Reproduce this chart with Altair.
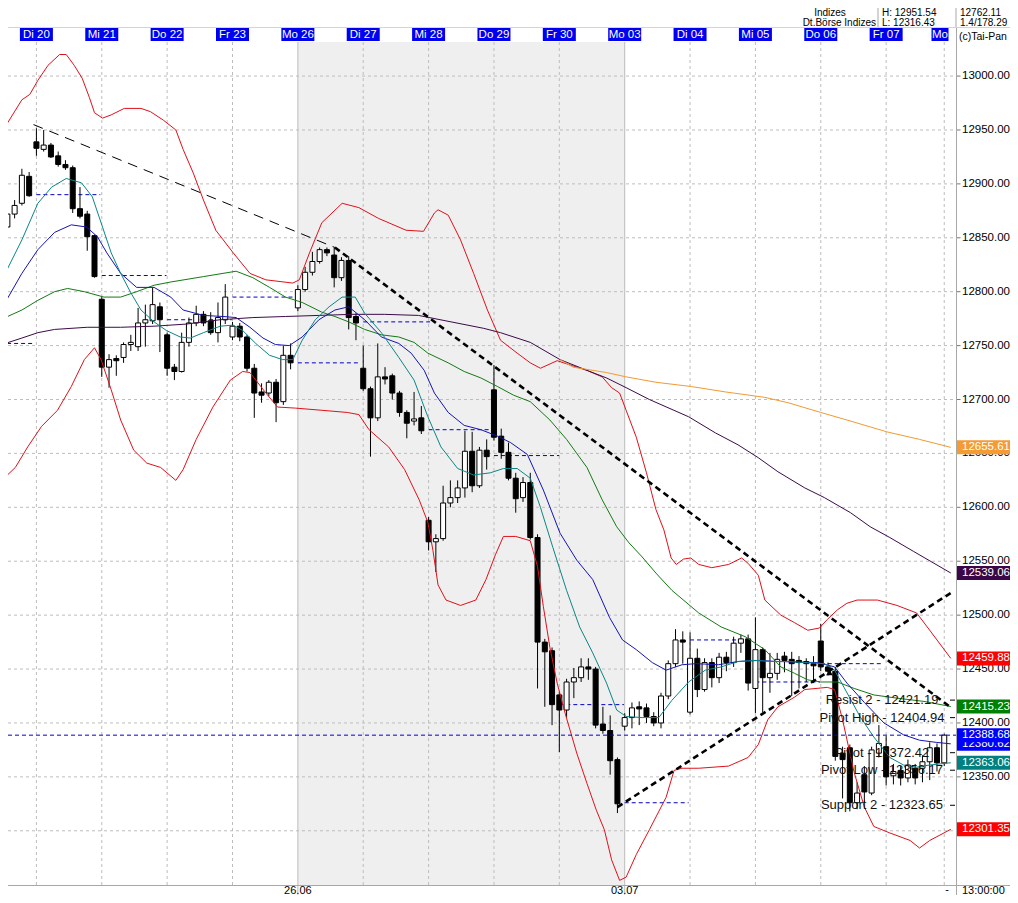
import altair as alt
import pandas as pd

FONT = "Liberation Sans"

# ---------------- candles (hourly, index 0..129) ----------------
opens = [
    12860, 12872, 12882, 12907, 12939, 12932, 12936, 12926, 12918, 12915,
    12877, 12872, 12852, 12793, 12730, 12738, 12739, 12751, 12749, 12771,
    12773, 12786, 12760, 12730, 12726, 12753, 12771, 12779, 12773, 12762,
    12774, 12758, 12768, 12758, 12729, 12707, 12706, 12716, 12698, 12741,
    12785, 12802, 12818, 12828, 12839, 12834, 12813, 12829, 12777, 12729,
    12710, 12683, 12721, 12722, 12706, 12688, 12680, 12683, 12588, 12568,
    12571, 12604, 12609, 12618, 12652, 12620, 12653, 12709, 12666, 12651,
    12627, 12609, 12623, 12572, 12475, 12467, 12426, 12412, 12438, 12442,
    12452, 12450, 12399, 12393, 12366, 12397, 12405, 12415, 12414, 12406,
    12400, 12425, 12455, 12477, 12410, 12460, 12431, 12456, 12442, 12461,
    12456, 12474, 12478, 12432, 12468, 12442, 12446, 12462, 12459, 12458,
    12457, 12455, 12476, 12452, 12448, 12372, 12377, 12326, 12352, 12335,
    12372, 12378, 12351, 12356, 12349, 12358, 12358, 12364, 12377, 12363]
highs = [
    12877, 12885, 12914, 12911, 12951.54, 12950, 12938, 12930, 12922, 12917,
    12897, 12875, 12853, 12795, 12742, 12741, 12753, 12760, 12785, 12788,
    12804, 12790, 12762, 12733, 12762, 12776, 12787, 12782, 12781, 12790,
    12807, 12772, 12771, 12760, 12733, 12715, 12718, 12719, 12750, 12752,
    12806, 12823, 12837, 12841, 12841, 12841, 12832, 12833, 12780, 12750,
    12712, 12752, 12730, 12724, 12708, 12690, 12707, 12694, 12591, 12575,
    12620, 12625, 12625, 12671, 12670, 12656, 12663, 12732, 12673, 12660,
    12632, 12628, 12632, 12575, 12478, 12470, 12429, 12441, 12451, 12460,
    12460, 12452, 12415, 12407, 12368, 12409, 12419, 12420, 12418, 12410,
    12428, 12458, 12487, 12485, 12484, 12469, 12460, 12460, 12465, 12466,
    12480, 12482, 12482, 12498, 12470, 12465, 12465, 12466, 12466, 12462,
    12460, 12462, 12492, 12456, 12452, 12378, 12380, 12345, 12360, 12378,
    12398, 12388, 12362, 12360, 12366, 12362, 12370, 12382, 12381, 12390]
lows = [
    12855, 12868, 12880, 12888, 12926, 12930, 12924, 12916, 12913, 12873,
    12868, 12838, 12813, 12721, 12711, 12722, 12734, 12745, 12745, 12749,
    12770, 12744, 12722, 12718, 12725, 12749, 12768, 12768, 12760, 12753,
    12770, 12755, 12754, 12726, 12683, 12697, 12703, 12679, 12695, 12728,
    12782, 12800, 12815, 12826, 12833, 12804, 12810, 12765, 12755, 12708,
    12647, 12680, 12714, 12700, 12684, 12664, 12676, 12668, 12560, 12540,
    12569, 12600, 12604, 12609, 12614, 12618, 12635, 12662, 12645, 12625,
    12595, 12605, 12570, 12432, 12415, 12398, 12373, 12405, 12423, 12438,
    12440, 12395, 12390, 12352, 12316.43, 12393, 12395, 12398, 12400, 12397,
    12395, 12422, 12452, 12455, 12408, 12424, 12429, 12433, 12437, 12448,
    12452, 12465, 12430, 12409, 12410, 12428, 12440, 12447, 12425, 12432,
    12438, 12437, 12448, 12444, 12365, 12330, 12318, 12320, 12326, 12333,
    12368, 12342, 12343, 12342, 12345, 12343, 12345, 12347, 12355, 12360]
closes = [
    12872, 12880, 12908, 12889, 12933, 12936, 12925, 12918, 12915, 12877,
    12870, 12851, 12814, 12730, 12737, 12736, 12751, 12753, 12771, 12774,
    12788, 12774, 12729, 12726, 12753, 12771, 12779, 12771, 12762, 12776,
    12795, 12768, 12758, 12729, 12706, 12704, 12716, 12697, 12741, 12734,
    12802, 12818, 12828, 12839, 12836, 12813, 12829, 12776, 12771, 12710,
    12683, 12721, 12719, 12706, 12688, 12678, 12682, 12671, 12568, 12571,
    12604, 12609, 12618, 12652, 12620, 12653, 12647, 12665, 12651, 12627,
    12608, 12623, 12572, 12475, 12466, 12417, 12412, 12438, 12442, 12452,
    12450, 12398, 12393, 12365, 12325, 12405, 12414, 12413, 12406, 12400,
    12425, 12455, 12477, 12475, 12460, 12431, 12456, 12442, 12461, 12456,
    12474, 12478, 12437, 12468, 12442, 12446, 12459, 12458, 12455, 12456,
    12455, 12453, 12452, 12448, 12369, 12366, 12326, 12335, 12336, 12375,
    12381, 12350, 12355, 12349, 12361, 12349, 12364, 12377, 12363, 12388.68]

# ---------------- indicator lines (x in candle index units) ----------------
teal_x = [-0.3, 2.0, 4.2, 6.1, 8.1, 10.2, 11.7, 12.9, 14.3, 15.6,
          17.0, 18.4, 20.2, 21.9, 23.8, 25.2, 27.0, 29.3, 31.1, 32.4,
          34.2, 36.1, 37.9, 39.3, 40.6, 42.4, 44.3, 46.1, 47.9, 49.2,
          51.5, 53.9, 56.0, 57.9, 59.7, 62.0, 64.2, 66.5, 68.3, 70.2,
          72.0, 73.4, 75.1, 77.0, 78.8, 80.6, 82.5, 83.9, 85.2, 87.4,
          89.7, 91.5, 93.8, 96.1, 98.3, 100.6, 103.0, 105.2, 107.5, 109.8,
          112.5, 113.9, 115.2, 117.4, 119.3, 121.5, 123.4, 125.2, 127.0, 129.9]
teal_y = [12817, 12848, 12882, 12897, 12905, 12901, 12888, 12864, 12836, 12817,
          12799, 12783, 12772, 12764, 12758, 12757, 12762, 12768, 12769, 12764,
          12752, 12741, 12737, 12737, 12755, 12774, 12786, 12795, 12795, 12780,
          12762, 12739, 12718, 12684, 12656, 12636, 12630, 12632, 12636, 12636,
          12627, 12600, 12563, 12523, 12489, 12465, 12437, 12412, 12406, 12405,
          12405, 12421, 12438, 12449, 12452, 12457, 12458, 12457, 12457, 12456,
          12455, 12449, 12433, 12406, 12387, 12368, 12361, 12359, 12361, 12363.06]

blue_x = [-0.3, 2.0, 4.2, 6.5, 8.8, 10.9, 12.4, 13.7, 15.6, 17.8,
          20.2, 22.5, 24.2, 27.0, 29.7, 31.5, 33.4, 35.2, 36.9, 38.8,
          40.6, 42.9, 45.1, 47.0, 49.2, 51.5, 53.9, 55.6, 57.4, 58.8,
          60.7, 62.9, 65.2, 67.5, 69.3, 71.6, 73.8, 76.1, 78.4, 80.6,
          82.9, 84.7, 86.6, 88.8, 90.7, 92.9, 94.8, 97.9, 100.6, 103.4,
          106.1, 111.6, 113.9, 115.6, 118.0, 120.7, 123.4, 125.6, 127.9, 129.9]
blue_y = [12790, 12817, 12839, 12855, 12862, 12860, 12851, 12836, 12817, 12804,
          12804, 12795, 12783, 12778, 12777, 12776, 12767, 12757, 12751, 12750,
          12758, 12774, 12783, 12786, 12774, 12758, 12752, 12743, 12727, 12706,
          12688, 12676, 12672, 12666, 12660, 12649, 12616, 12576, 12551, 12533,
          12498, 12477, 12468, 12456, 12449, 12454, 12455, 12454, 12457, 12458,
          12457, 12456, 12452, 12437, 12419, 12400, 12389, 12384, 12382, 12380.62]

green_x = [-0.3, 2.0, 4.2, 6.5, 8.3, 10.6, 13.3, 15.6, 17.8, 20.2,
           22.5, 27.0, 31.5, 33.8, 36.1, 38.3, 40.6, 43.3, 45.1, 47.0,
           49.2, 51.5, 53.9, 56.0, 57.9, 60.7, 62.9, 65.2, 67.5, 69.7,
           72.0, 74.7, 77.0, 79.8, 81.9, 83.9, 85.6, 87.4, 89.3, 91.5,
           95.2, 98.3, 101.6, 104.3, 106.5, 108.4, 110.2, 112.0, 114.3, 116.6,
           119.3, 122.5, 126.2, 129.9]
green_y = [12776, 12783, 12792, 12800, 12803, 12800, 12795, 12795, 12800, 12806,
           12809, 12814, 12819, 12813, 12804, 12795, 12790, 12781, 12777, 12772,
           12765, 12760, 12758, 12753, 12743, 12734, 12726, 12720, 12712, 12704,
           12698, 12681, 12663, 12637, 12607, 12582, 12567, 12554, 12539, 12523,
           12502, 12489, 12480, 12468, 12452, 12446, 12440, 12438, 12438, 12432,
           12426, 12423, 12420, 12415.23]

purple_x = [-0.3, 2.0, 4.2, 6.5, 11.0, 15.6, 20.2, 24.7, 29.3, 33.8,
            38.3, 42.9, 47.4, 51.9, 56.6, 61.1, 65.6, 67.9, 72.0, 76.1,
            80.2, 82.5, 85.2, 88.4, 93.8, 97.5, 100.6, 103.4, 106.1, 109.8,
            112.5, 116.1, 118.8, 121.5, 124.8, 129.9]
purple_y = [12752, 12757, 12762, 12765, 12767, 12767, 12768, 12770, 12774, 12776,
            12777, 12778, 12779, 12779, 12778, 12772, 12766, 12762, 12753, 12737,
            12726, 12720, 12711, 12700, 12684, 12669, 12658, 12646, 12633, 12618,
            12609, 12595, 12582, 12572, 12559, 12539.06]

orange_x = [76.1, 77.9, 82.5, 85.2, 89.3, 94.2, 98.9, 104.3, 107.5, 112.0,
            116.6, 121.1, 125.6, 129.9]
orange_y = [12737, 12730, 12725, 12721, 12716, 12712, 12707, 12702, 12697, 12688,
            12679, 12670, 12663, 12655.61]

bb_up_x = [-0.3, 2.0, 3.1, 4.2, 5.6, 7.2, 8.1, 9.2, 10.3, 11.3,
           12.0, 13.1, 14.3, 16.1, 18.4, 19.7, 21.5, 23.2, 24.2, 25.6,
           27.0, 28.7, 31.1, 33.4, 35.6, 39.3, 40.2, 41.6, 43.3, 46.1,
           48.4, 51.1, 54.9, 57.3, 58.8, 59.3, 60.7, 62.4, 64.2, 66.1,
           67.9, 70.2, 72.0, 73.4, 75.7, 77.5, 79.8, 81.9, 83.2, 84.3,
           85.2, 86.6, 88.0, 89.3, 90.4, 91.4, 92.1, 93.1, 94.1, 95.2,
           97.0, 99.3, 101.1, 102.0, 103.4, 104.3, 106.5, 108.4, 110.2, 111.8,
           112.9, 114.3, 115.6, 117.0, 119.8, 122.5, 125.2, 127.0, 129.9]
bb_up_y = [12953, 12978, 12983, 12996, 13010, 13020, 13020, 13010, 12998, 12980,
           12966, 12961, 12964, 12970, 12970, 12967, 12959, 12950, 12932, 12910,
           12885, 12857, 12836, 12817, 12811, 12808, 12811, 12836, 12864, 12882,
           12878, 12868, 12857, 12856, 12873, 12876, 12871, 12848, 12817, 12783,
           12755, 12743, 12734, 12729, 12736, 12732, 12727, 12721, 12711, 12706,
           12690, 12665, 12632, 12598, 12579, 12553, 12547, 12552, 12553, 12547,
           12544, 12547, 12553, 12548, 12537, 12514, 12500, 12493, 12486, 12488,
           12496, 12505, 12511, 12514, 12514, 12509, 12502, 12486, 12459.88]

bb_lo_x = [-0.3, 1.1, 2.8, 4.7, 6.9, 8.8, 10.6, 12.0, 12.9, 14.3,
           15.6, 17.4, 19.2, 21.1, 23.2, 24.2, 26.0, 28.3, 30.7, 32.4,
           33.4, 35.6, 37.2, 39.7, 43.3, 46.8, 48.4, 49.8, 52.5, 54.7,
           56.7, 57.9, 58.6, 59.3, 60.4, 62.4, 64.5, 65.9, 67.2, 68.3,
           70.0, 72.0, 73.0, 73.8, 74.7, 75.7, 76.8, 78.4, 79.8, 81.1,
           82.2, 83.2, 84.3, 85.2, 86.6, 88.4, 90.7, 91.8, 92.9, 95.2,
           99.3, 102.0, 103.4, 104.7, 106.1, 108.4, 109.8, 112.9, 113.9, 115.0,
           116.6, 118.0, 119.3, 121.5, 124.3, 125.6, 127.0, 129.9]
bb_lo_y = [12628, 12637, 12656, 12675, 12690, 12712, 12737, 12748, 12737, 12709,
           12681, 12653, 12641, 12637, 12625, 12635, 12663, 12693, 12718, 12726,
           12725, 12706, 12693, 12692, 12690, 12688, 12686, 12672, 12656, 12635,
           12607, 12586, 12560, 12528, 12514, 12509, 12514, 12533, 12556, 12573,
           12573, 12569, 12545, 12508, 12470, 12437, 12409, 12372, 12344, 12319,
           12301, 12273, 12254, 12257, 12278, 12301, 12331, 12356, 12358, 12358,
           12360, 12368, 12380, 12403, 12415, 12424, 12431, 12433, 12431, 12403,
           12354, 12322, 12304, 12298, 12291, 12284, 12291, 12301.35]

# daily reference levels (blue dashed)
seg_start = [-1, 4, 13, 22, 31, 40, 49, 58, 67, 76, 85, 94, 103, 112]
seg_end = [3.6, 12.8, 21.9, 30.9, 39.3, 48.4, 58.2, 67.0, 76.0, 84.9, 93.8, 101.1, 111.9, 120.5]
seg_price = [12752, 12890, 12815, 12774, 12795, 12734, 12772, 12672, 12648, 12417,
             12326, 12477, 12438, 12455]
last_price = 12388.68

# trend lines
thin_x = [3.6, 45.1]
thin_y = [12955, 12841]
down_x = [45.1, 130.0]
down_y = [12841, 12414]
up_x = [84.0, 130.0]
up_y = [12322, 12521]

# pivot levels
pivot_names = ["Resist 2 - 12421.19", "Pivot High - 12404.94", "Pivot - 12372.42",
               "Pivot Low - 12356.17", "Support 2 - 12323.65"]
pivot_vals = [12421.19, 12404.94, 12372.42, 12356.17, 12323.65]

# day labels
day_names = ["Di 20", "Mi 21", "Do 22", "Fr 23", "Mo 26", "Di 27", "Mi 28",
             "Do 29", "Fr 30", "Mo 03", "Di 04", "Mi 05", "Do 06", "Fr 07"]
day_idx = [4, 13, 22, 31, 40, 49, 58, 67, 76, 85, 94, 103, 112, 121]
grid_idx = [4, 13, 22, 31, 49, 58, 67, 76, 94, 103, 112, 121, 129]
week_start = [40]
week_end = [85]
week_labels = ["26.06", "03.07"]
week_idx = [40, 85]
price_ticks = list(range(12300, 13001, 50))

# header texts
hdr_text = ["Indizes", "Dt.Börse Indizes", "H: 12951.54", "L: 12316.43", "12762.11",
            "1.4/178.29", "(c)Tai-Pan", "13:00:00", "-"]

# right value boxes
box_vals = [12655.61, 12539.06, 12459.88, 12415.23, 12388.68, 12363.06, 12301.35]
box_cols = ["#f49b34", "#3a0846", "#ff0000", "#008000", "#0000ff", "#008080", "#ff0000"]
hidden_val = [12380.62]

# ---------------- geometry ----------------
W, H = 948, 843
RIGHT, BOTTOM = 54, 10
xs = alt.Scale(domain=[0.7766, 129.93], nice=False, zero=False)
ys = alt.Scale(domain=[12249.7, 13031.6], nice=False, zero=False)


def X(f):
    return alt.X(f, type="quantitative", scale=xs, axis=None)


def Y(f):
    return alt.Y(f, type="quantitative", scale=ys, axis=None)


candles = pd.DataFrame({"idx": list(range(len(opens))), "open": opens, "high": highs,
                        "low": lows, "close": closes})

layers = []

# shaded week
layers.append(alt.Chart(pd.DataFrame({"a": week_start, "b": week_end})).mark_rect(
    color="#efefef", clip=True).encode(x=X("a"), x2="b", y=alt.value(0), y2=alt.value(H)))

# horizontal grid
ticks_df = pd.DataFrame({"price": price_ticks, "lab": [f"{v:.2f}" for v in price_ticks]})
layers.append(alt.Chart(ticks_df).mark_rule(
    color="#bdbdbd", strokeDash=[3, 3], strokeWidth=1).encode(
    y=Y("price"), x=alt.value(0), x2=alt.value(W)))

# right axis: ticks and labels
layers.append(alt.Chart(ticks_df).mark_rule(color="#777", strokeWidth=1).encode(
    y=Y("price"), x=alt.value(948.5), x2=alt.value(952.5)))
layers.append(alt.Chart(ticks_df).mark_text(
    font=FONT, fontSize=11.5, color="black", align="left", baseline="middle").encode(
    y=Y("price"), x=alt.value(954), text="lab"))

# vertical day grid
layers.append(alt.Chart(pd.DataFrame({"idx": grid_idx})).mark_rule(
    color="#bdbdbd", strokeDash=[3, 3], strokeWidth=1).encode(
    x=X("idx"), y=alt.value(0), y2=alt.value(H)))

# week boundaries (solid)
layers.append(alt.Chart(pd.DataFrame({"idx": week_start + week_end})).mark_rule(
    color="#bcbcbc", strokeWidth=1).encode(x=X("idx"), y=alt.value(0), y2=alt.value(H + BOTTOM)))

# daily dashed levels
layers.append(alt.Chart(pd.DataFrame({"s": seg_start, "e": seg_end, "p": seg_price})).mark_rule(
    color="#0000c8", strokeDash=[4, 3], strokeWidth=1, clip=True).encode(
    x=X("s"), x2="e", y=Y("p")))

# candles
layers.append(alt.Chart(candles).mark_rule(color="black", strokeWidth=1, clip=True).encode(
    x=X("idx"), y=Y("low"), y2="high"))
layers.append(alt.Chart(candles).mark_bar(size=5, stroke="black", strokeWidth=1, clip=True).encode(
    x=X("idx"), y=Y("open"), y2="close",
    fill=alt.condition(alt.datum.close >= alt.datum.open, alt.value("white"), alt.value("black"))))


def line(xv, yv, color, width=1.0):
    df = pd.DataFrame({"idx": xv, "price": yv})
    return alt.Chart(df).mark_line(color=color, strokeWidth=width, clip=True,
                                   interpolate="linear").encode(
        x=X("idx"), y=Y("price"), order="idx:Q")


layers.append(line(bb_up_x, bb_up_y, "#e0101a"))
layers.append(line(bb_lo_x, bb_lo_y, "#e0101a"))
layers.append(line(purple_x, purple_y, "#3c0a48"))
layers.append(line(orange_x, orange_y, "#f39a30"))
layers.append(line(green_x, green_y, "#137a13"))
layers.append(line(blue_x, blue_y, "#1414b4"))
layers.append(line(teal_x, teal_y, "#0b8585"))

# last price line
layers.append(alt.Chart(pd.DataFrame({"price": [last_price]})).mark_rule(
    color="#0000d0", strokeDash=[4, 3], strokeWidth=1).encode(
    y=Y("price"), x=alt.value(0), x2=alt.value(W)))

# trend lines
for xv, yv, dash, wdt in [(thin_x, thin_y, [10, 7], 1), (down_x, down_y, [6, 4], 2.6),
                          (up_x, up_y, [6, 4], 2.6)]:
    layers.append(alt.Chart(pd.DataFrame({"idx": xv, "price": yv})).mark_line(
        color="black", strokeDash=dash, strokeWidth=wdt, clip=True).encode(
        x=X("idx"), y=Y("price")))

# marker at line crossing
layers.append(alt.Chart(pd.DataFrame({"idx": [113.2], "price": [12447]})).mark_point(
    shape="triangle-up", filled=True, size=45, color="black", opacity=1).encode(
    x=X("idx"), y=Y("price")))

# pivot labels and axis marks
piv = pd.DataFrame({"price": pivot_vals, "name": pivot_names})
layers.append(alt.Chart(piv).mark_text(font=FONT, fontSize=13, color="#111",
                                       align="center", baseline="middle").encode(
    x=alt.value(874), y=Y("price"), text="name"))
layers.append(alt.Chart(piv).mark_rule(color="black", strokeWidth=1).encode(
    x=alt.value(942), x2=alt.value(947), y=Y("price")))

# day label boxes
days = pd.DataFrame({"idx": day_idx, "name": day_names})
layers.append(alt.Chart(days).mark_tick(orient="horizontal", size=33, thickness=13,
                                        color="#0000f0", opacity=1).encode(
    x=X("idx"), y=alt.value(-7.5)))
layers.append(alt.Chart(days).mark_text(font=FONT, fontSize=11.5, color="white",
                                        align="center", baseline="middle").encode(
    x=X("idx"), y=alt.value(-7), text="name"))
mo = pd.DataFrame({"name": ["Mo"]})
layers.append(alt.Chart(mo).mark_tick(
    orient="horizontal", size=17, thickness=13, color="#0000f0", opacity=1).encode(
    x=alt.value(932), y=alt.value(-7.5)))
layers.append(alt.Chart(mo).mark_text(
    font=FONT, fontSize=11.5, color="white", align="center", baseline="middle").encode(
    x=alt.value(932), y=alt.value(-7), text="name"))

# week labels on bottom band
layers.append(alt.Chart(pd.DataFrame({"idx": week_idx, "name": week_labels})).mark_text(
    font=FONT, fontSize=11, color="black", align="center", baseline="middle").encode(
    x=X("idx"), y=alt.value(H + 5.5), text="name"))

# header / footer texts, each placed in pixels
hdr_pos = [(822, -29, "center", 10), (868, -18.6, "right", 10),
           (874, -29, "left", 10), (874, -18.6, "left", 10),
           (952, -29, "left", 10), (952, -18.6, "left", 10),
           (951, -5, "left", 10.5), (954, H + 5.5, "left", 11), (939, H + 5, "center", 11)]
for t, (px, py, al, fs) in zip(hdr_text, hdr_pos):
    layers.append(alt.Chart(pd.DataFrame({"t": [t]})).mark_text(
        font=FONT, fontSize=fs, color="black", align=al, baseline="middle").encode(
        x=alt.value(px), y=alt.value(py), text="t"))

# separators and frame lines
frame = pd.DataFrame({"k": [0]})
for x1, y1, x2, y2, col in [(870, -34, 870, -15, "#a8a8a8"), (948, -34, 948, -15, "#a8a8a8"),
                            (948.5, -15, 948.5, H + BOTTOM, "#a8a8a8"),
                            (0, H + 0.5, W + RIGHT, H + 0.5, "#a8a8a8"),
                            (0, -14.5, W + RIGHT, -14.5, "#d4d4d4")]:
    layers.append(alt.Chart(frame).mark_rule(color=col, strokeWidth=1).encode(
        x=alt.value(x1), x2=alt.value(x2), y=alt.value(y1), y2=alt.value(y2)))

# right value boxes: partly hidden one first
BOXC, BOXW = 949 + (W + RIGHT - 949) / 2, W + RIGHT - 949
hid = pd.DataFrame({"price": hidden_val, "lab": [f"{v:.2f}" for v in hidden_val]})
layers.append(alt.Chart(hid).mark_tick(orient="horizontal", size=BOXW, thickness=14,
                                       color="#0000ff", opacity=1).encode(
    x=alt.value(BOXC), y=Y("price")))
layers.append(alt.Chart(hid).mark_text(font=FONT, fontSize=11.5, color="white",
                                       align="left", baseline="middle").encode(
    x=alt.value(954), y=Y("price"), text="lab"))
bx = pd.DataFrame({"price": box_vals, "col": box_cols,
                   "lab": [f"{v:.2f}" for v in box_vals]})
layers.append(alt.Chart(bx).mark_tick(orient="horizontal", size=BOXW, thickness=14,
                                      opacity=1).encode(
    x=alt.value(BOXC), y=Y("price"), color=alt.Color("col:N", scale=None)))
layers.append(alt.Chart(bx).mark_text(font=FONT, fontSize=11.5, color="white",
                                      align="left", baseline="middle").encode(
    x=alt.value(954), y=Y("price"), text="lab"))

chart = alt.layer(*layers).properties(
    width=W, height=H,
    padding={"left": 0, "top": 34, "right": RIGHT, "bottom": BOTTOM},
    autosize=alt.AutoSizeParams(type="none"),
    background="white",
).configure_view(strokeWidth=0)

chart.save("out.html", embed_options={"renderer": "svg", "actions": False})
